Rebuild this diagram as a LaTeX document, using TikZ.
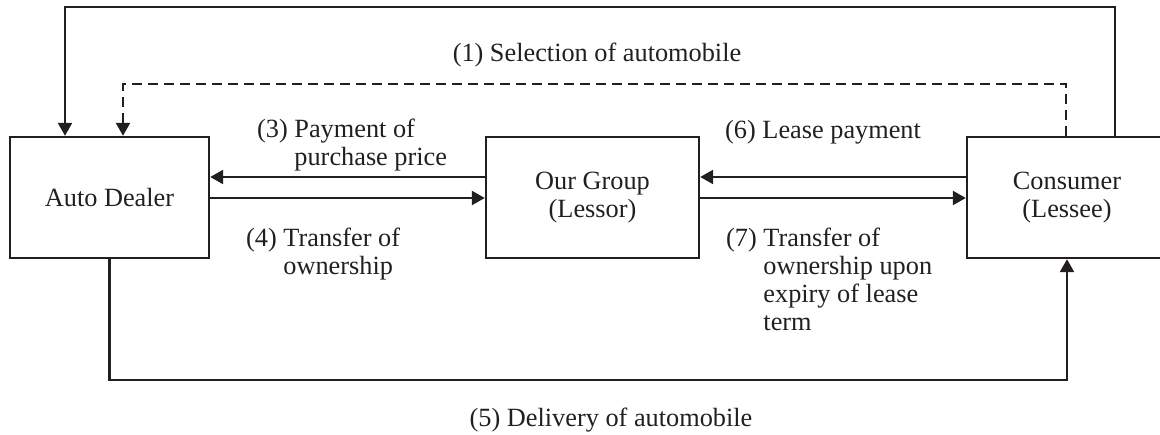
\documentclass[tikz,border=0pt]{standalone}
\usepackage{fontspec}
\setmainfont{Liberation Serif}
\usetikzlibrary{arrows.meta}
\definecolor{ink}{RGB}{35,31,32}
\begin{document}
\begin{tikzpicture}[x=1pt,y=-1pt,
  every node/.style={font=\fontsize{26.3}{28}\selectfont, text=ink},
  box/.style={draw=ink, line width=2.4pt, inner sep=0pt, minimum height=121pt, align=center},
  arr/.style={draw=ink, line width=2.4pt, -{Triangle[length=13pt,width=14pt]}},
  dashline/.style={dash pattern=on 9.5pt off 6.5pt},
  lbl/.style={inner sep=0pt, anchor=base west}]
\useasboundingbox (0,0) rectangle (1160,435);

% parties
\node[box, minimum width=199pt] (dealer) at (109.5,197.5) {Auto Dealer};
\node[box, minimum width=213pt] (group) at (592.5,197.5) {Our Group\\(Lessor)};
\node[box, minimum width=200pt] (cons) at (1067,197.5) {Consumer\\(Lessee)};

% routing points
\coordinate (topR) at (1115,7);
\coordinate (topL) at (65,7);
\coordinate (dshR) at (1066,84);
\coordinate (dshL) at (123,84);
\coordinate (hu) at (0,177);
\coordinate (hl) at (0,198);
\coordinate (botL) at (109.5,380);
\coordinate (botR) at (1067,380);

% consumer contacts dealer
\draw[arr] (cons.north -| topR) -- (topR) -- (topL) -- (dealer.north -| topL);
% (1) selection of automobile
\draw[arr, dashline] (cons.north -| dshR) -- (dshR) -- (dshL) -- (dealer.north -| dshL);
% payments and ownership transfers
\draw[arr] (group.west |- hu) -- (dealer.east |- hu);
\draw[arr] (dealer.east |- hl) -- (group.west |- hl);
\draw[arr] (cons.west |- hu) -- (group.east |- hu);
\draw[arr] (group.east |- hl) -- (cons.west |- hl);
% delivery
\draw[arr] (dealer.south) -- (botL) -- (botR) -- (cons.south);

% labels
\node[inner sep=0pt, anchor=base] (l1) at (597,62) {(1) Selection of automobile};
\node[lbl] (l3) at (257,138) {\begin{tabular}[t]{@{}l@{\ }l@{}}(3) & Payment of\\ & purchase price\end{tabular}};
\node[lbl] (l4) at (246,247) {\begin{tabular}[t]{@{}l@{\ }l@{}}(4) & Transfer of\\ & ownership\end{tabular}};
\node[lbl] (l6) at (725,139) {(6) Lease payment};
\node[lbl] (l7) at (726,247) {\begin{tabular}[t]{@{}l@{\ }l@{}}(7) & Transfer of\\ & ownership upon\\ & expiry of lease\\ & term\end{tabular}};
\node[inner sep=0pt, anchor=base] (l5) at (611,427) {(5) Delivery of automobile};
\end{tikzpicture}
\end{document}
